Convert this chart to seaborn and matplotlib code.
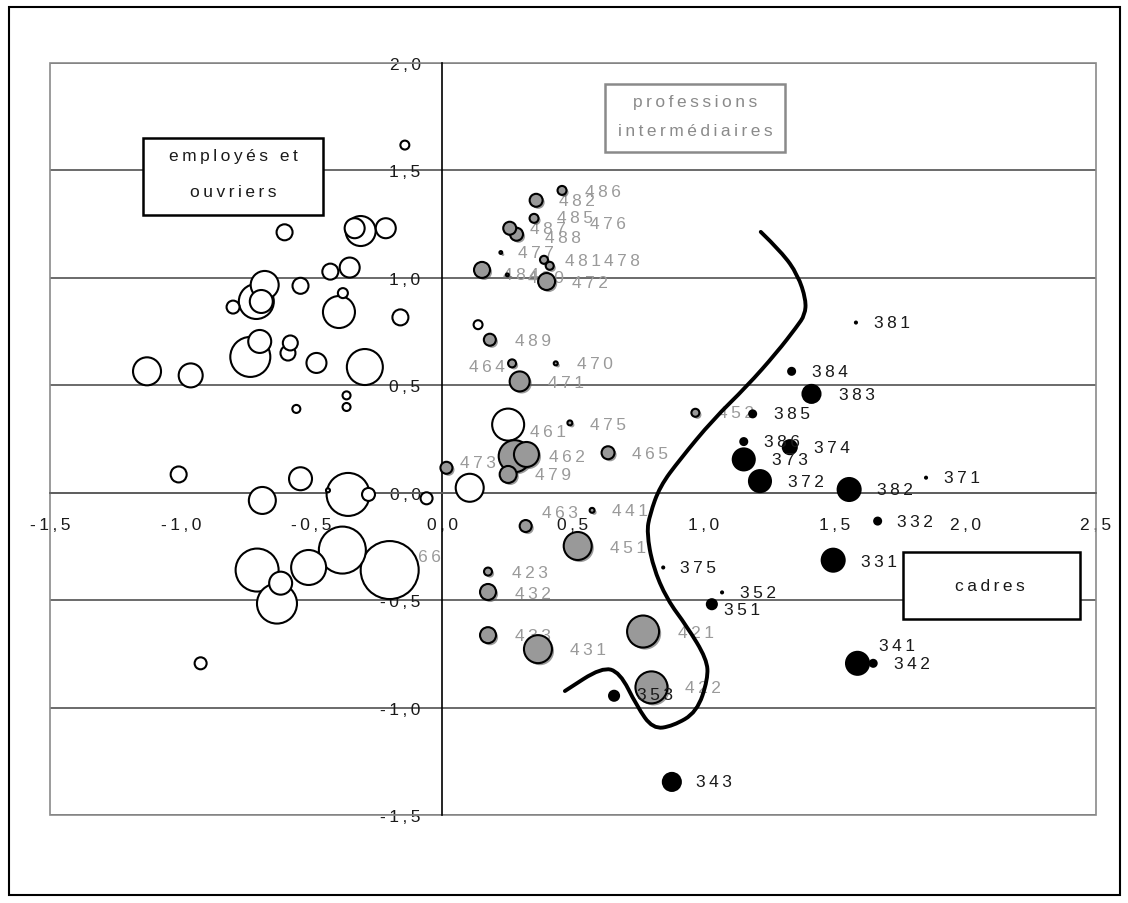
import numpy as np
import pandas as pd
import matplotlib
matplotlib.use("Agg")
import matplotlib.pyplot as plt
import matplotlib.patheffects as pe
from matplotlib.patches import Rectangle, PathPatch
from matplotlib.path import Path
import seaborn as sns

# employés et ouvriers (bulles blanches) : coordonnées factorielles et poids (aire)
ouv_x = [-0.143, 0.137, -0.603, -0.335, -0.312, -0.216, -0.428, -0.354, -0.679, -0.542,
         -0.711, -0.692, -0.800, -0.380, -0.395, -0.160, -0.698, -0.734, -0.581, -0.590,
         -0.481, -0.296, -1.129, -0.962, -0.366, -0.366, -0.558, 0.252, 0.105, -0.060,
         -1.008, -0.542, -0.688, -0.360, -0.437, -0.282, -0.382, -0.201, -0.511, -0.708,
         -0.618, -0.632, -0.924]
ouv_y = [1.618, 0.782, 1.212, 1.231, 1.218, 1.231, 1.029, 1.048, 0.967, 0.963,
         0.890, 0.890, 0.864, 0.929, 0.841, 0.816, 0.704, 0.632, 0.697, 0.650,
         0.604, 0.585, 0.565, 0.546, 0.453, 0.399, 0.390, 0.317, 0.023, -0.026,
         0.085, 0.065, -0.036, -0.008, 0.011, -0.008, -0.267, -0.360, -0.348, -0.360,
         -0.421, -0.516, -0.794]
ouv_poids = [20, 20, 64, 100, 225, 100, 64, 100, 196, 64,
             306, 132, 42, 25, 256, 64, 132, 400, 56, 56,
             100, 324, 196, 144, 16, 16, 16, 256, 196, 36,
             64, 132, 182, 462, 4, 42, 552, 841, 306, 462,
             132, 400, 36]

# professions intermédiaires (bulles grises)
pi_code = ["486", "482", "485", "487", "488", "477", "481", "478", "484", "480",
           "472", "489", "464", "470", "471", "475", "461", "462", "465", "473",
           "479", "452", "463", "441", "451", "423", "432", "433", "431", "421", "422"]
pi_x = [0.458, 0.359, 0.351, 0.258, 0.284, 0.224, 0.389, 0.411, 0.152, 0.249,
        0.399, 0.182, 0.267, 0.434, 0.296, 0.488, 0.322, 0.277, 0.634, 0.016,
        0.252, 0.968, 0.319, 0.573, 0.518, 0.175, 0.175, 0.175, 0.366, 0.768, 0.800]
pi_y = [1.407, 1.361, 1.277, 1.231, 1.203, 1.118, 1.084, 1.056, 1.037, 1.014,
        0.983, 0.712, 0.602, 0.602, 0.518, 0.325, 0.178, 0.170, 0.186, 0.116,
        0.085, 0.372, -0.155, -0.082, -0.248, -0.367, -0.462, -0.663, -0.728, -0.646, -0.906]
pi_poids = [20, 42, 20, 42, 42, 2, 16, 16, 64, 2,
            72, 36, 16, 4, 100, 6, 156, 256, 42, 36,
            72, 16, 36, 6, 196, 16, 64, 64, 196, 256, 256]

# libellés des professions intermédiaires
pi_lab = ["486", "482", "485", "476", "487", "488", "477", "481", "478", "484",
          "480", "472", "489", "464", "470", "471", "475", "461", "462", "465",
          "473", "479", "452", "463", "441", "466", "451", "423", "432", "433",
          "431", "421", "422"]
pi_lab_x = [0.614, 0.515, 0.507, 0.633, 0.405, 0.462, 0.360, 0.537, 0.686, 0.300,
            0.395, 0.564, 0.346, 0.169, 0.583, 0.475, 0.633, 0.404, 0.475, 0.794,
            0.136, 0.423, 1.125, 0.450, 0.717, -0.075, 0.711, 0.335, 0.346, 0.346,
            0.558, 0.972, 0.997]
pi_lab_y = [1.400, 1.362, 1.279, 1.255, 1.228, 1.186, 1.116, 1.079, 1.079, 1.016,
            1.002, 0.977, 0.709, 0.588, 0.601, 0.514, 0.318, 0.286, 0.167, 0.183,
            0.142, 0.085, 0.372, -0.093, -0.085, -0.295, -0.255, -0.372, -0.468, -0.663,
            -0.728, -0.650, -0.906]

# cadres (points noirs)
cad_code = ["381", "384", "383", "385", "386", "374", "373", "372", "382", "371",
            "332", "331", "341", "342", "375", "352", "351", "353", "343"]
cad_x = [1.582, 1.336, 1.412, 1.187, 1.153, 1.329, 1.153, 1.215, 1.556, 1.850,
         1.665, 1.495, 1.588, 1.648, 0.845, 1.070, 1.031, 0.657, 0.878]
cad_y = [0.792, 0.565, 0.460, 0.367, 0.238, 0.212, 0.155, 0.054, 0.015, 0.070,
         -0.132, -0.314, -0.794, -0.794, -0.348, -0.464, -0.519, -0.945, -1.346]
cad_poids = [1, 12, 81, 12, 12, 49, 121, 121, 132, 1,
             12, 132, 132, 12, 1, 1, 25, 25, 81]
cad_lab_x = [1.718, 1.482, 1.585, 1.336, 1.298, 1.489, 1.329, 1.391, 1.731, 1.986,
             1.808, 1.670, 1.740, 1.795, 0.977, 1.207, 1.145, 0.813, 1.039]
cad_lab_y = [0.792, 0.565, 0.457, 0.367, 0.240, 0.209, 0.155, 0.054, 0.015, 0.072,
             -0.132, -0.318, -0.713, -0.794, -0.348, -0.464, -0.542, -0.937, -1.346]

# frontière cadres / professions intermédiaires (tracé à main levée)
front_x = [1.218, 1.299, 1.360, 1.391, 1.387, 1.356, 1.279, 1.164, 1.035, 0.909,
           0.832, 0.794, 0.782, 0.805, 0.859, 0.935, 1.012, 1.016, 0.974, 0.882,
           0.805, 0.744, 0.679, 0.610, 0.469]
front_y = [1.214, 1.119, 1.013, 0.898, 0.828, 0.773, 0.652, 0.494, 0.340, 0.155,
           0.029, -0.101, -0.185, -0.342, -0.496, -0.621, -0.775, -0.867, -1.021, -1.086,
           -1.100, -0.993, -0.835, -0.812, -0.923]

xticks = [-1.5, -1.0, -0.5, 0.0, 0.5, 1.0, 1.5, 2.0, 2.5]
yticks = [-1.5, -1.0, -0.5, 0.0, 0.5, 1.0, 1.5, 2.0]

ouv = pd.DataFrame({"x": ouv_x, "y": ouv_y, "poids": ouv_poids}).sort_values("poids", ascending=False)
pi = pd.DataFrame({"code": pi_code, "x": pi_x, "y": pi_y, "poids": pi_poids}).sort_values("poids", ascending=False)
cad = pd.DataFrame({"code": cad_code, "x": cad_x, "y": cad_y, "poids": cad_poids})

sns.set_style("white")
plt.rcParams['font.family'] = ['Liberation Sans', 'DejaVu Sans']

SP = "\u2009"


def espace(s):
    return SP.join(s)


fig = plt.figure(figsize=(11.28, 9.04), dpi=100)
ax = fig.add_axes([50 / 1128, 88 / 904, 1046 / 1128, 752 / 904])

size_kw = dict(size="poids", sizes=(0, 2073.6), size_norm=(0, 1000), legend=False)

sns.scatterplot(data=ouv, x="x", y="y", color="white", edgecolor="black",
                linewidth=1.5, zorder=3, ax=ax, **size_kw)
sns.scatterplot(data=pi, x="x", y="y", color="#999999", edgecolor="black",
                linewidth=1.5, zorder=4, ax=ax, **size_kw)
ax.collections[-1].set_path_effects([
    pe.SimplePatchShadow(offset=(1.5, -1.5), shadow_rgbFace="0.35", alpha=0.6),
    pe.Normal()])
sns.scatterplot(data=cad, x="x", y="y", color="black", edgecolor="black",
                linewidth=1.5, zorder=5, ax=ax, **size_kw)

for lab, lx, ly in zip(pi_lab, pi_lab_x, pi_lab_y):
    ax.text(lx, ly, espace(lab), ha="center", va="center", fontsize=12.5,
            color="#9a9a9a", zorder=2.5)
for lab, lx, ly in zip(cad_code, cad_lab_x, cad_lab_y):
    ax.text(lx, ly, espace(lab), ha="center", va="center", fontsize=12.5,
            color="#1a1a1a", zorder=5.5)

# courbe lissée (béziers quadratiques passant par les milieux)
pts = np.column_stack([front_x, front_y])
verts = [pts[0]]
codes = [Path.MOVETO]
for i in range(1, len(pts) - 1):
    verts += [pts[i], (pts[i] + pts[i + 1]) / 2]
    codes += [Path.CURVE3, Path.CURVE3]
verts.append(pts[-1])
codes.append(Path.LINETO)
ax.add_patch(PathPatch(Path(verts, codes), facecolor="none", edgecolor="black",
                       lw=2.8, joinstyle="round", capstyle="round", zorder=6))

# encadrés
boxes = [((-1.145, 1.293), 0.689, 0.356, "black", ["employés et", "ouvriers"], (-0.800, [1.571, 1.401]), "#1a1a1a"),
         ((0.622, 1.587), 0.688, 0.314, "#8a8a8a", ["professions", "intermédiaires"], (0.966, [1.819, 1.687]), "#8a8a8a"),
         ((1.762, -0.588), 0.677, 0.311, "black", ["cadres"], (2.095, [-0.434]), "#1a1a1a")]
for (bx, by), bw, bh, ec, lines, (tx, tys), tc in boxes:
    ax.add_patch(Rectangle((bx, by), bw, bh, facecolor="white", edgecolor=ec,
                           lw=1.8, zorder=7))
    for line, ty in zip(lines, tys):
        ax.text(tx, ty, espace(line), ha="center", va="center", fontsize=12.5,
                color=tc, zorder=8)

ax.set_xlim(-1.5, 2.5)
ax.set_ylim(-1.5, 2.0)
ax.set_xlabel("")
ax.set_ylabel("")
ax.set_xticks(xticks)
ax.set_yticks(yticks)
ax.set_xticklabels([espace(f"{v:.1f}".replace(".", ",")) for v in xticks])
ax.set_yticklabels([espace(f"{v:.1f}".replace(".", ",")) for v in yticks])
ax.yaxis.grid(True, color="#5f5f5f", lw=1.3, zorder=0)
ax.set_axisbelow(True)

ax.spines["left"].set_position(("data", 0))
ax.spines["bottom"].set_position(("data", 0))
ax.spines["left"].set_color("black")
ax.spines["left"].set_linewidth(1.2)
ax.spines["bottom"].set_color("#5f5f5f")
ax.spines["bottom"].set_linewidth(1.3)
ax.spines["top"].set_visible(False)
ax.spines["right"].set_visible(False)
ax.add_patch(Rectangle((0, 0), 1, 1, transform=ax.transAxes, fill=False,
                       edgecolor="#8a8a8a", lw=1.2, clip_on=False, zorder=1))

ax.tick_params(axis="x", direction="out", length=4.5, width=1, color="black",
               pad=13, labelsize=12.5, labelcolor="#1a1a1a")
ax.tick_params(axis="y", direction="out", length=3.6, width=1, color="black",
               pad=12, labelsize=12.5, labelcolor="#1a1a1a")

fig.patches.append(Rectangle((0.008, 0.009), 0.985, 0.982, transform=fig.transFigure,
                             fill=False, edgecolor="black", lw=1.5))

fig.savefig("out.png", dpi=100)
